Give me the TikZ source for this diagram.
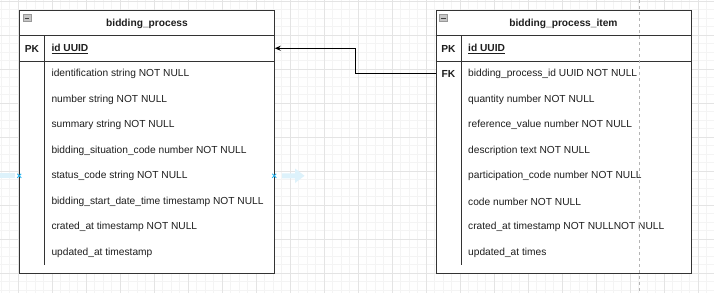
\documentclass[tikz,border=0pt]{standalone}
\usepackage{fontspec}
\setmainfont{Liberation Sans}
\usetikzlibrary{arrows.meta}
\definecolor{gridminor}{HTML}{F4F4F4}
\definecolor{gridmajor}{HTML}{E4E4E4}
\definecolor{pagebreak}{HTML}{B4B4B4}
\definecolor{frame}{HTML}{333333}
\definecolor{ink}{HTML}{1E1E1E}
\definecolor{hint}{HTML}{29B6F2}
\definecolor{hintpale}{HTML}{DDF2FB}
\tikzset{
  minorline/.style={draw=gridminor, line width=0.8pt},
  majorline/.style={draw=gridmajor, line width=1pt},
  tableframe/.style={draw=frame, line width=1pt, fill=white, rectangle, inner sep=0pt,
    minimum width=255pt, minimum height=263.5pt, anchor=north west},
  keyrow/.style={rectangle, inner sep=0pt, minimum width=255pt, minimum height=25.5pt, anchor=north west},
  divider/.style={draw=frame, line width=1pt},
  title/.style={font=\bfseries\fontsize{10.2}{12}\selectfont, text=ink},
  keytag/.style={font=\bfseries\fontsize{10.2}{12}\selectfont, text=ink},
  field/.style={font=\fontsize{10.2}{12}\selectfont, text=ink, anchor=west, inner sep=0pt},
  pkfield/.style={field, font=\bfseries\fontsize{10.2}{12}\selectfont},
  fold/.style={draw=gray!80, fill=gray!45, line width=0.5pt},
  relation/.style={draw=black, line width=0.9pt, -{Stealth[length=6pt, width=5pt]}},
  hintmark/.style={draw=hint, line width=0.9pt},
}
\begin{document}
\begin{tikzpicture}[x=1pt, y=-1pt]
\useasboundingbox (0,0) rectangle (714,293);
\fill[white] (0,0) rectangle (714,293);
% background grid
\foreach \i in {-2,...,82} \draw[minorline] ({18.3+8.5*\i},0) -- ({18.3+8.5*\i},293);
\foreach \j in {0,...,34} \draw[minorline] (0,{1.3+8.5*\j}) -- (714,{1.3+8.5*\j});
\foreach \i in {-1,...,21} \draw[majorline] ({18.3+34*\i},0) -- ({18.3+34*\i},293);
\foreach \j in {0,...,8} \draw[majorline] (0,{1.3+34*\j}) -- (714,{1.3+34*\j});

% ---------- bidding_process ----------
\node[tableframe] (bp) at (19.3,9.8) {};
\node[keyrow] (bp-head) at (19.3,9.8) {};
\node[keyrow] (bp-pk) at (19.3,35.3) {};
\draw[divider] (bp-pk.north west) -- (bp-pk.north east);
\draw[divider] (bp-pk.south west) -- (bp-pk.south east);
\draw[divider] (44.7,35.3) -- (44.7,264.8);
\draw[fold] (23.2,14.6) rectangle (30.8,21.2);
\draw[black!75, line width=0.8pt] (24.6,17.9) -- (29.4,17.9);
\node[title] (bp-title) at ([yshift=-0.8pt]bp-head.center) {bidding\_process};
\node[keytag] (bp-pktag) at (32,48.8) {PK};
\node[pkfield] (bp-id) at (51.3,48.8) {\underline{id UUID}};
\node[field] (bp-f1) at (51.3,74.3) {identification string NOT NULL};
\node[field] (bp-f2) at (51.3,99.8) {number string NOT NULL};
\node[field] (bp-f3) at (51.3,125.3) {summary string NOT NULL};
\node[field] (bp-f4) at (51.3,150.8) {bidding\_situation\_code number NOT NULL};
\node[field] (bp-f5) at (51.3,176.3) {status\_code string NOT NULL};
\node[field] (bp-f6) at (51.3,201.8) {bidding\_start\_date\_time timestamp NOT NULL};
\node[field] (bp-f7) at (51.3,227.3) {crated\_at timestamp NOT NULL};
\node[field] (bp-f8) at (51.3,252.8) {updated\_at timestamp};

% ---------- bidding_process_item ----------
\node[tableframe] (bpi) at (435.7,9.8) {};
\node[keyrow] (bpi-head) at (435.7,9.8) {};
\node[keyrow] (bpi-pk) at (435.7,35.3) {};
\node[keyrow] (bpi-fk) at (435.7,60.8) {};
\draw[divider] (bpi-pk.north west) -- (bpi-pk.north east);
\draw[divider] (bpi-pk.south west) -- (bpi-pk.south east);
\draw[divider] (461.3,35.3) -- (461.3,264.8);
\draw[fold] (439.6,14.6) rectangle (447.2,21.2);
\draw[black!75, line width=0.8pt] (441.0,17.9) -- (445.8,17.9);
\node[title] (bpi-title) at ([yshift=-0.8pt]bpi-head.center) {bidding\_process\_item};
\node[keytag] (bpi-pktag) at (448.5,48.8) {PK};
\node[keytag] (bpi-fktag) at (448.5,74.3) {FK};
\node[pkfield] (bpi-id) at (468,48.8) {\underline{id UUID}};
\node[field] (bpi-f1) at (468,74.3) {bidding\_process\_id UUID NOT NULL};
\node[field] (bpi-f2) at (468,99.8) {quantity number NOT NULL};
\node[field] (bpi-f3) at (468,125.3) {reference\_value number NOT NULL};
\node[field] (bpi-f4) at (468,150.8) {description text NOT NULL};
\node[field] (bpi-f5) at (468,176.3) {participation\_code number NOT NULL};
\node[field] (bpi-f6) at (468,201.8) {code number NOT NULL};
\node[field] (bpi-f7) at (468,227.3) {crated\_at timestamp NOT NULLNOT NULL};
\node[field] (bpi-f8) at (468,252.8) {updated\_at times};

% page break, drawn over the tables
\draw[pagebreak, line width=0.8pt, dash pattern=on 3pt off 3pt] (639.3,0) -- (639.3,293);

% ---------- relation ----------
\coordinate (bend) at (355.6,0);
\draw[relation] (bpi-fk.west) -- (bpi-fk.west -| bend) |- (bp-pk.east);

% ---------- connection hints ----------
\fill[hintpale] (0,173.3) rectangle (15,178.3);
\fill[hintpale] (282,173.3) rectangle (295,178.3) (295,168.5) -- (304.5,175.8) -- (295,183) -- cycle;
\coordinate (hint-l) at (19.3,175.8);
\coordinate (hint-r) at (274.3,175.8);
\foreach \p in {hint-l,hint-r}
  \draw[hintmark] ([shift={(-2,-2)}]\p) -- ([shift={(2,2)}]\p) ([shift={(-2,2)}]\p) -- ([shift={(2,-2)}]\p);
\end{tikzpicture}
\end{document}
